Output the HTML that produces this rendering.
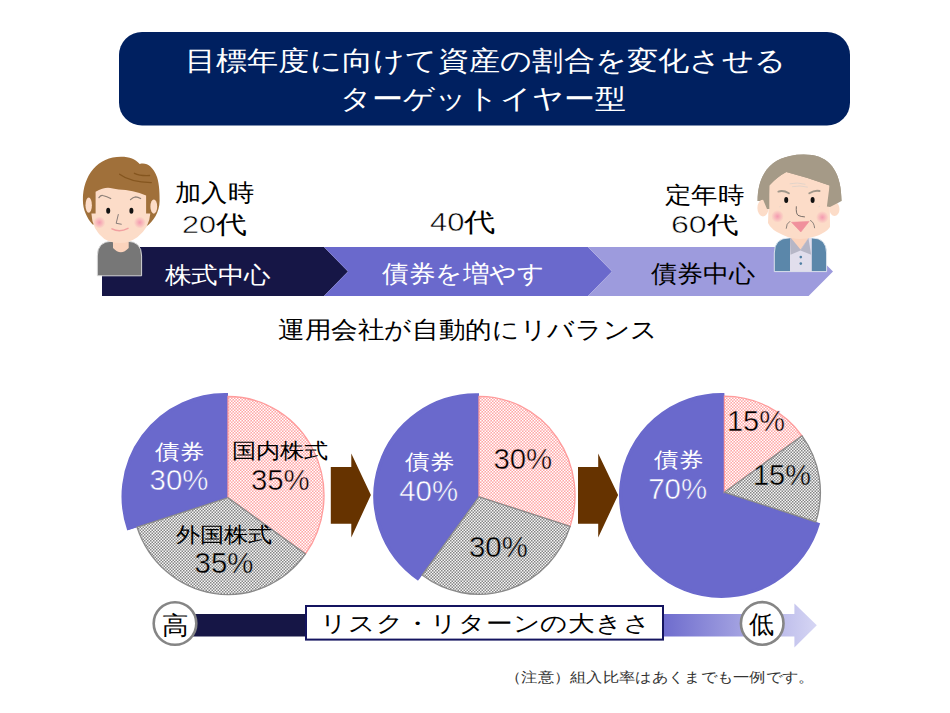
<!DOCTYPE html>
<html lang="ja">
<head>
<meta charset="utf-8">
<title>ターゲットイヤー型</title>
<style>
html,body{margin:0;padding:0;background:#fff;}
body{width:950px;height:713px;position:relative;overflow:hidden;font-family:"Liberation Sans",sans-serif;color:#000;}
svg.bg{position:absolute;left:0;top:0;}
.t{position:absolute;white-space:nowrap;line-height:1;transform-origin:0 0;}
.w{color:#fff;}
</style>
</head>
<body>
<svg class="bg" width="950" height="713" viewBox="0 0 950 713">
<defs>
  <pattern id="pk" width="3" height="3" patternUnits="userSpaceOnUse">
    <rect width="3" height="3" fill="#ffa6a6"/>
    <rect x="0" y="0" width="1.5" height="1.5" fill="#fff"/>
    <rect x="1.5" y="1.5" width="1.5" height="1.5" fill="#fff"/>
  </pattern>
  <pattern id="gy" width="3" height="3" patternUnits="userSpaceOnUse">
    <rect width="3" height="3" fill="#f6f6f6"/>
    <rect x="0" y="0" width="1.5" height="1.5" fill="#858585"/>
    <rect x="1.5" y="1.5" width="1.5" height="1.5" fill="#858585"/>
  </pattern>
  <linearGradient id="rg" x1="170" y1="0" x2="817" y2="0" gradientUnits="userSpaceOnUse">
    <stop offset="0" stop-color="#161646"/>
    <stop offset="0.21" stop-color="#161646"/>
    <stop offset="0.76" stop-color="#6d6bcd"/>
    <stop offset="1" stop-color="#d6d6f4"/>
  </linearGradient>
  <radialGradient id="ck">
    <stop offset="0" stop-color="#f49ab0"/>
    <stop offset="1" stop-color="#f49ab0" stop-opacity="0"/>
  </radialGradient>
</defs>

<!-- title bar -->
<rect x="119" y="32" width="731" height="93.6" rx="23" ry="23" fill="#002060"/>

<!-- chevron row -->
<polygon points="102,247 324,247 348,271.5 324,296 102,296" fill="#161646"/>
<polygon points="324,247 588,247 612,271.5 588,296 324,296 348,271.5" fill="#6a69cc"/>
<polygon points="588,247 808.6,247 833,271.5 808.6,296 588,296 612,271.5" fill="#9d9bdd"/>

<!-- young man -->
<g id="young">
  <path d="M97.3,275.8 L97.3,256 Q97.3,241.2 112,241.2 L127,241.2 Q141.6,241.2 141.6,256 L141.6,275.8 Z" fill="#777" stroke="#e2e2e2" stroke-width="0.9"/>
  <path d="M113,234 L128.7,234 L128.7,248 Q120.8,256.5 113,248 Z" fill="#fbd3bc"/>
  <path d="M82.9,200 C82.9,175 98,156.7 121,156.7 C130,156.7 135,159 139.7,164 C146,162 153,166 157,177 C159.6,185 159.6,195 159.6,201 C159.6,212 153,222 146.5,226.3 L92.6,224.6 C87,218 82.9,210 82.9,200 Z" fill="#a0703a"/>
  <ellipse cx="88.7" cy="205.2" rx="3.2" ry="7.6" fill="#fcdcc8"/>
  <ellipse cx="153.8" cy="206.6" rx="3.4" ry="7.1" fill="#fcdcc8"/>
  <path d="M95.6,191.7 Q104,187 110.3,188 Q114,188.5 118.7,189.6 Q133,190 146.1,195.5 L146.1,213.6 L150.3,213.6 Q149.5,228 137.3,237.2 Q129,243 120,243 Q111,243 104.4,238.9 Q92,230 91.4,213.6 L95.6,213.6 Z" fill="#fcdcc8"/>
  <path d="M119.6,174.2 Q130,182 151.3,182.6" fill="none" stroke="#85561f" stroke-width="1.3" stroke-linecap="round"/>
  <path d="M134.4,173.3 Q140,176 149.6,175.5" fill="none" stroke="#85561f" stroke-width="1.3" stroke-linecap="round"/>
  <circle cx="99.4" cy="222.5" r="6" fill="url(#ck)"/>
  <circle cx="139.8" cy="222.5" r="6" fill="url(#ck)"/>
  <path d="M98.9,197.6 Q101,195 102.7,195.5 Q107,196.5 110.7,198.5" fill="none" stroke="#8e8078" stroke-width="1.25" stroke-linecap="round" stroke-linejoin="round"/>
  <path d="M130.5,199.7 Q133,197 135.6,196.8 Q138,197 140.6,198.5" fill="none" stroke="#8e8078" stroke-width="1.25" stroke-linecap="round" stroke-linejoin="round"/>
  <ellipse cx="108.2" cy="210.7" rx="2" ry="3" fill="#111"/>
  <ellipse cx="131.4" cy="210.7" rx="2" ry="3" fill="#111"/>
  <path d="M118.3,214.5 L116.2,223.3 L121.3,224.2" fill="none" stroke="#7a7270" stroke-width="0.9" stroke-linecap="round" stroke-linejoin="round"/>
  <path d="M112,228.8 Q119.6,232.8 128,228.4" fill="none" stroke="#f2a0a0" stroke-width="1.5" stroke-linecap="round"/>
</g>
<!-- old man -->
<g id="old">
  <path d="M774.3,271.6 L774.3,253 Q774.3,237.9 789.4,237.9 L811.8,237.9 Q826.6,237.9 826.6,253 L826.6,271.6 Z" fill="#5b87aa" stroke="#e4eaf0" stroke-width="0.9"/>
  <rect x="790" y="237.9" width="21.8" height="33.7" fill="#e1deec"/>
  <polygon points="790,237.9 790.5,254.7 800.5,250.5 808.4,237.9" fill="#b6b6c6"/>
  <polygon points="808.4,237.9 811.2,254.7 800.5,250.5" fill="#b6b6c6"/>
  <polygon points="791,237.9 800.5,249.5 808.4,237.9" fill="#fbd3bc"/>
  <circle cx="800.8" cy="257.1" r="1.3" fill="#4f7fa3"/>
  <circle cx="800.8" cy="263.6" r="1.3" fill="#4f7fa3"/>
  <path d="M757.6,201 C757.6,175 770,160 790,156 Q800,153.7 812,155 C832,158 841.5,175 841.5,201 Z" fill="#a59a87"/>
  <ellipse cx="763" cy="208" rx="5.6" ry="8.4" fill="#fcdcc8"/>
  <ellipse cx="834.5" cy="209" rx="5" ry="7" fill="#fcdcc8"/>
  <path d="M769.3,185.5 Q777,177 786.3,172 Q808,177.5 829.6,185.5 L830,227 Q826,233 815,236.5 Q806,239 800,239 Q791,239 783,235 Q771,230 768,223 Z" fill="#fcdcc8"/>
  <path d="M757.6,201 C757.6,175 770,160 790,156 Q800,153.7 812,155 C832,158 841.5,175 841.5,201 L838.3,202.8 L830,206.9 L826.9,206.4 L829.6,185.5 Q808,177.5 786.3,172 Q777,177 769.3,185.5 L769.3,209 L767,209 L763,199.6 Z" fill="#a59a87"/>
  <path d="M789.7,183.8 Q797,182 805.4,184.3 M792.1,186.7 Q800,185 807.8,187.2" fill="none" stroke="#dcd2ca" stroke-width="0.8"/>
  <circle cx="777.5" cy="216.4" r="6.3" fill="url(#ck)"/>
  <circle cx="822.3" cy="217.3" r="6.3" fill="url(#ck)"/>
  <path d="M778.4,191.6 Q783,189.8 788.9,193.2" fill="none" stroke="#a0978a" stroke-width="1.9" stroke-linecap="round"/>
  <path d="M809.3,193.2 Q815,189.8 819.6,191" fill="none" stroke="#a0978a" stroke-width="1.9" stroke-linecap="round"/>
  <ellipse cx="786.2" cy="200" rx="2" ry="3" fill="#111"/>
  <ellipse cx="812.6" cy="200" rx="2" ry="3" fill="#111"/>
  <path d="M796.3,206.7 Q795.8,213.5 798,215.3 Q801,216.8 804.5,216.9" fill="none" stroke="#6a625e" stroke-width="0.9" stroke-linecap="round"/>
  <polygon points="791.5,222.3 809.1,221.4 800.8,232" fill="#f0909c" stroke="#f0909c" stroke-width="0.6" stroke-linejoin="round"/>
  <path d="M789.8,221.4 Q786.2,223.5 786.2,228.3 M810.5,220.5 Q814,222 814.6,227.8" fill="none" stroke="#6e6a66" stroke-width="0.8" stroke-linecap="round"/>
  <path d="M779.3,206.9 l1.5,-0.8 M818.5,206.9 l1.5,-0.8" fill="none" stroke="#d8cfc8" stroke-width="0.6"/>
</g>
<!-- /faces -->
<!-- pies -->
<g id="pies">
<clipPath id="bc0"><polygon points="228.0,497.7 37.8,559.5 49.8,406.9 166.2,307.5 228.0,297.7"/></clipPath>
<clipPath id="bc1"><polygon points="479.0,496.8 361.4,658.6 281.5,528.1 317.2,379.2 447.7,299.3 479.0,296.8"/></clipPath>
<clipPath id="bc2"><polygon points="724.4,492.2 914.6,554.0 815.2,670.4 662.6,682.4 546.2,583.0 534.2,430.4 633.6,314.0 724.4,292.2"/></clipPath>
<path d="M228.00,497.70 L128.84,529.92 A101.80,101.80 0 0 1 228.00,394.74 Z" fill="#6a69cc" stroke="#6a69cc" stroke-width="3.4" stroke-linejoin="round" clip-path="url(#bc0)"/>
<path d="M228.00,497.70 L228.00,396.50 A96.00,99.00 0 0 1 305.46,553.98 Z" fill="url(#pk)" stroke="#ff9c9c" stroke-width="1.3"/>
<path d="M228.00,497.70 L305.46,553.98 A96.00,99.00 0 0 1 137.07,527.25 Z" fill="url(#gy)" stroke="#8a8a8a" stroke-width="1.3"/>
<path d="M479.00,496.80 L419.00,579.38 A101.00,101.00 0 0 1 479.00,395.04 Z" fill="#6a69cc" stroke="#6a69cc" stroke-width="3.4" stroke-linejoin="round" clip-path="url(#bc1)"/>
<path d="M479.00,496.80 L479.00,396.30 A96.00,99.00 0 0 1 570.14,526.41 Z" fill="url(#pk)" stroke="#ff9c9c" stroke-width="1.3"/>
<path d="M479.00,496.80 L570.14,526.41 A96.00,99.00 0 0 1 422.14,575.06 Z" fill="url(#gy)" stroke="#8a8a8a" stroke-width="1.3"/>
<path d="M724.40,492.20 L818.51,522.78 A100.80,100.80 0 1 1 724.40,394.64 Z" fill="#6a69cc" stroke="#6a69cc" stroke-width="3.4" stroke-linejoin="round" clip-path="url(#bc2)"/>
<path d="M724.40,492.20 L724.40,396.20 A96.00,96.30 0 0 1 802.01,435.82 Z" fill="url(#pk)" stroke="#ff9c9c" stroke-width="1.3"/>
<path d="M724.40,492.20 L802.01,435.82 A96.00,96.30 0 0 1 815.82,521.90 Z" fill="url(#gy)" stroke="#8a8a8a" stroke-width="1.3"/>
</g>
<!-- brown arrows -->
<polygon points="330.8,467 351.3,467 351.3,453.6 370.9,495 351.3,537.4 351.3,523.7 330.8,523.7" fill="#663300"/>
<polygon points="578,467 598.2,467 598.2,453.6 618.1,495 598.2,537.4 598.2,523.7 578,523.7" fill="#663300"/>

<!-- bottom arrow -->
<polygon points="170,614 794.4,614 794.4,603.4 816.8,625.3 794.4,647.6 794.4,636.6 170,636.6" fill="url(#rg)"/>
<rect x="306" y="606" width="357" height="33.6" fill="#fff" stroke="#141460" stroke-width="2"/>
<circle cx="175" cy="623.5" r="21.3" fill="#fff" stroke="#858585" stroke-width="2.6"/>
<circle cx="762.2" cy="623.4" r="21.3" fill="#fff" stroke="#858585" stroke-width="2.6"/>
</svg>
<div class="t" style="left:185.0px;top:46.6px;font-size:27.44px;transform:scaleX(1.154);color:#fff;">目標年度に向けて資産の割合を変化させる</div>
<div class="t" style="left:340.3px;top:85.4px;font-size:27.40px;transform:scaleX(1.148);color:#fff;">ターゲットイヤー型</div>
<div class="t" style="left:175.2px;top:182.2px;font-size:23.59px;transform:scaleX(1.096);">加入時</div>
<div class="t" style="left:181.5px;top:213.2px;font-size:24.78px;transform:scaleX(1.235);"><span style="-webkit-text-stroke:0.5px #fff">20</span>代</div>
<div class="t" style="left:430.1px;top:209.7px;font-size:25.73px;transform:scaleX(1.202);"><span style="-webkit-text-stroke:0.5px #fff">40</span>代</div>
<div class="t" style="left:664.9px;top:183.6px;font-size:23.20px;transform:scaleX(1.151);">定年時</div>
<div class="t" style="left:670.6px;top:213.4px;font-size:24.43px;transform:scaleX(1.316);"><span style="-webkit-text-stroke:0.5px #fff">60</span>代</div>
<div class="t" style="left:165.4px;top:264.2px;font-size:22.78px;transform:scaleX(1.152);color:#fff;">株式中心</div>
<div class="t" style="left:381.5px;top:262.5px;font-size:23.72px;transform:scaleX(1.108);color:#fff;">債券を増やす</div>
<div class="t" style="left:651.0px;top:262.6px;font-size:23.68px;transform:scaleX(1.087);">債券中心</div>
<div class="t" style="left:278.1px;top:318.1px;font-size:24.04px;transform:scaleX(1.108);">運用会社が自動的にリバランス</div>
<div class="t" style="left:161.5px;top:614.2px;font-size:24.52px;transform:scaleX(1.065);">高</div>
<div class="t" style="left:749.1px;top:612.4px;font-size:24.89px;">低</div>
<div class="t" style="left:320.2px;top:613.2px;font-size:21.83px;transform:scaleX(1.211);">リスク・リターンの大きさ</div>
<div class="t" style="left:505.2px;top:671.0px;font-size:13.61px;transform:scaleX(1.164);color:#333;">（注意）組入比率はあくまでも一例です。</div>
<div class="t" style="left:155.1px;top:441.5px;font-size:20.60px;transform:scaleX(1.170);color:#fff;">債券</div>
<div class="t" style="left:149.6px;top:465.2px;font-size:29.40px;color:#fff;"><span style="-webkit-text-stroke:0.5px #6a69cc">30%</span></div>
<div class="t" style="left:231.6px;top:440.6px;font-size:20.90px;transform:scaleX(1.150);">国内株式</div>
<div class="t" style="left:250.9px;top:465.2px;font-size:29.40px;"><span style="-webkit-text-stroke:0.5px #ffc8c8">35%</span></div>
<div class="t" style="left:175.6px;top:525.2px;font-size:20.90px;transform:scaleX(1.150);">外国株式</div>
<div class="t" style="left:194.6px;top:548.1px;font-size:29.40px;"><span style="-webkit-text-stroke:0.5px #b8b8b8">35%</span></div>
<div class="t" style="left:404.8px;top:451.6px;font-size:20.60px;transform:scaleX(1.170);color:#fff;">債券</div>
<div class="t" style="left:399.2px;top:475.5px;font-size:29.40px;color:#fff;"><span style="-webkit-text-stroke:0.5px #6a69cc">40%</span></div>
<div class="t" style="left:493.4px;top:443.6px;font-size:29.40px;"><span style="-webkit-text-stroke:0.5px #ffc8c8">30%</span></div>
<div class="t" style="left:469.0px;top:532.4px;font-size:29.40px;"><span style="-webkit-text-stroke:0.5px #b8b8b8">30%</span></div>
<div class="t" style="left:654.0px;top:450.0px;font-size:20.60px;transform:scaleX(1.170);color:#fff;">債券</div>
<div class="t" style="left:648.2px;top:473.5px;font-size:29.40px;color:#fff;"><span style="-webkit-text-stroke:0.5px #6a69cc">70%</span></div>
<div class="t" style="left:726.6px;top:406.0px;font-size:29.40px;transform:scaleX(0.985);"><span style="-webkit-text-stroke:0.5px #ffc8c8">15%</span></div>
<div class="t" style="left:753.1px;top:459.6px;font-size:29.40px;transform:scaleX(0.985);"><span style="-webkit-text-stroke:0.5px #b8b8b8">15%</span></div>
</body>
</html>
